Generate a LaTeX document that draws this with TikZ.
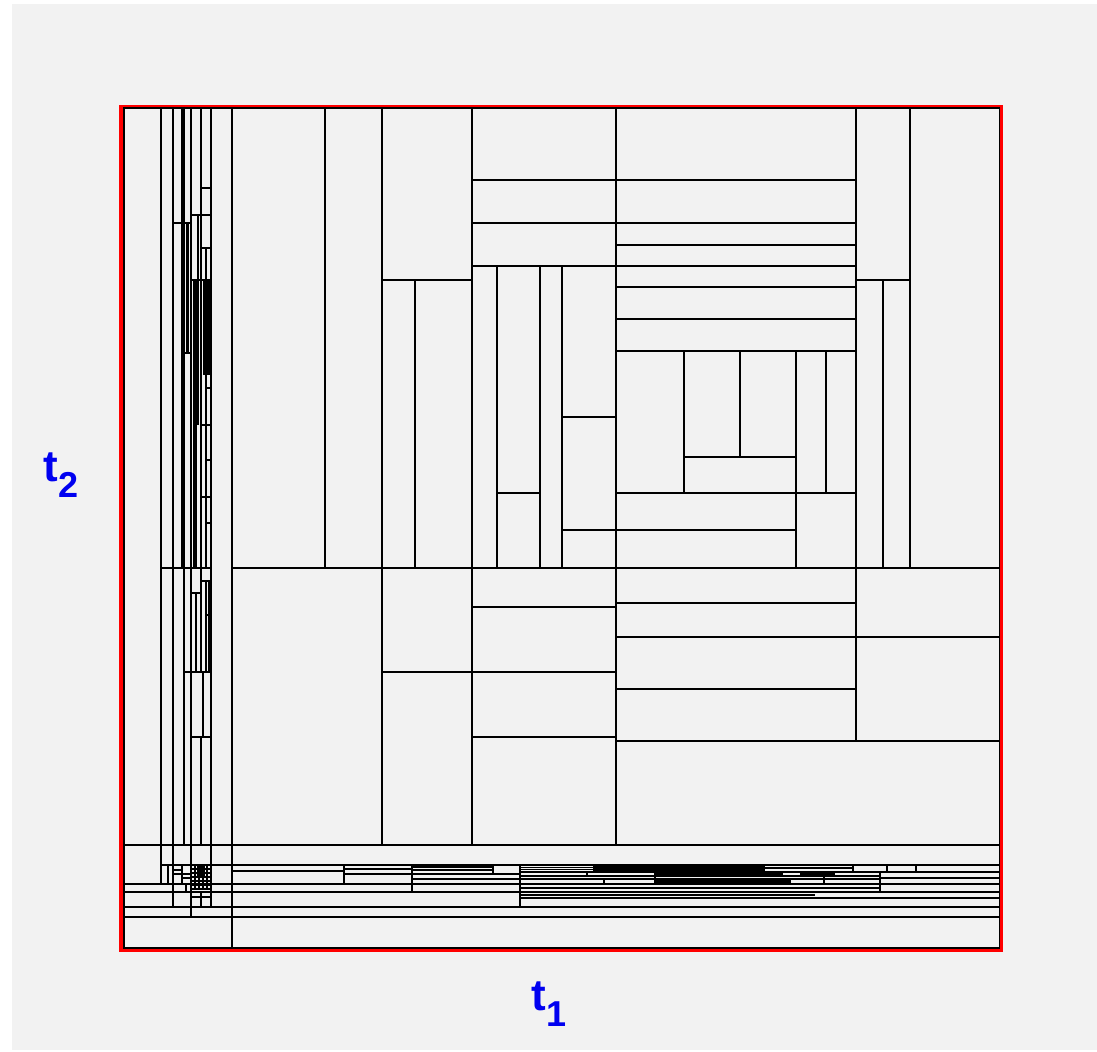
\documentclass[tikz,border=0pt]{standalone}
\usepackage{fontspec}
\setmainfont{Liberation Sans}
\definecolor{bgray}{HTML}{F2F2F2}
\definecolor{lblue}{HTML}{0000F0}
\newcommand\hseg[3]{\draw[gl] (#2,#1) -- (#3,#1);}
\newcommand\vseg[3]{\draw[gl] (#1,#2) -- (#1,#3);}
\newcommand\axlabel[1]{\bfseries\fontsize{22}{24}\selectfont t\raisebox{-8pt}{\fontsize{18}{20}\selectfont #1}}
\begin{document}
\begin{tikzpicture}[x=0.5pt,y=-0.5pt,
  gl/.style={line width=0.6pt,black},
  band/.style={fill=black},
  gband/.style={fill=black!55},
  lbl/.style={text=lblue,inner sep=0pt,anchor=base west}]
\useasboundingbox (0,0) rectangle (1097,1051);
\fill[white] (0,0) rectangle (1097,1051);
\fill[bgray] (12,4) rectangle (1097,1050);
% frame
\draw[red,line width=2pt] (121,106.5) rectangle (1001,949.5);
\draw[black,line width=0.8pt] (124,108) rectangle (999.5,948);
% ---------- main grid, top block ----------
\vseg{232}{108}{948}
\vseg{325}{108}{568}
\vseg{382}{108}{845}
\vseg{472}{108}{845}
\vseg{616}{108}{845}
\vseg{856}{108}{741}
\vseg{910}{108}{568}
\hseg{568}{232}{999}
\hseg{568}{161}{211}
\hseg{280}{382}{472}
\vseg{415}{280}{568}
\hseg{180}{472}{856}
\hseg{223}{472}{856}
\hseg{266}{472}{856}
\hseg{245}{616}{856}
\hseg{287}{616}{856}
\hseg{319}{616}{856}
\hseg{351}{616}{856}
\vseg{497}{266}{568}
\vseg{540}{266}{568}
\vseg{562}{266}{568}
\hseg{493}{497}{540}
\hseg{417}{562}{616}
\hseg{530}{562}{616}
\vseg{684}{351}{493}
\vseg{740}{351}{457}
\vseg{796}{351}{568}
\vseg{826}{351}{493}
\hseg{457}{684}{796}
\hseg{493}{616}{856}
\hseg{530}{616}{796}
\hseg{280}{856}{910}
\vseg{883}{280}{568}
% ---------- middle block ----------
\hseg{672}{382}{616}
\hseg{607}{472}{616}
\hseg{737}{472}{616}
\hseg{603}{616}{856}
\hseg{637}{616}{999}
\hseg{689}{616}{856}
\hseg{741}{616}{999}
% ---------- left column ----------
\fill[gband] (182,108) rectangle (184,568);
\fill[band] (185.5,223) rectangle (188.5,353);
\fill[band] (192.5,280) rectangle (197,568);
\fill[band] (202.5,280) rectangle (209.5,375);
\vseg{161}{108}{884}
\vseg{173}{108}{907}
\vseg{182}{108}{568}
\vseg{184}{108}{845}
\vseg{191}{108}{917}
\vseg{201}{108}{215}
\vseg{211}{108}{907}
\hseg{223}{173}{191}
\hseg{353}{184}{191}
\hseg{215}{191}{211}
\hseg{188}{201}{211}
\hseg{248}{201}{211}
\vseg{198}{215}{425}
\vseg{201}{215}{568}
\vseg{206}{248}{280}
\hseg{280}{191}{211}
\vseg{206}{375}{568}
\foreach \yy in {388,460,523}{\hseg{\yy}{206}{211}}
\foreach \yy in {425,497}{\hseg{\yy}{201}{211}}
\hseg{581}{201}{211}
\vseg{206}{581}{672}
\vseg{209}{581}{672}
\hseg{615}{206}{211}
\hseg{593}{191}{201}
\vseg{196}{593}{672}
\vseg{201}{568}{672}
\hseg{672}{184}{211}
\vseg{203}{672}{737}
\hseg{737}{191}{211}
\vseg{201}{737}{845}
% ---------- bottom strip ----------
\hseg{845}{124}{999}
\hseg{865}{161}{999}
\hseg{884}{124}{999}
\hseg{892}{124}{999}
\hseg{907}{124}{999}
\hseg{917}{124}{999}
\hseg{898}{520}{999}
% 232-520
\vseg{344}{865}{884}
\hseg{871}{232}{344}
\vseg{412}{865}{892}
\hseg{869}{344}{412}
\hseg{874}{344}{520}
\hseg{867}{412}{493}
\hseg{870}{412}{493}
\vseg{493}{865}{874}
\hseg{879}{412}{520}
\vseg{520}{865}{907}
% 520-999
\hseg{867.5}{520}{595}
\hseg{869.5}{520}{595}
\fill[band] (595,865) rectangle (765,870.5);
\vseg{594}{865}{871}
\hseg{868}{765}{853}
\hseg{872}{520}{999}
\vseg{587}{872}{876}
\vseg{655}{872}{884}
\vseg{782}{872}{876}
\fill[band] (655,873) rectangle (782,876);
\hseg{876}{520}{880}
\hseg{879}{520}{880}
\hseg{878}{880}{999}
\vseg{604}{879}{884}
\vseg{790}{879}{884}
\fill[band] (655,880) rectangle (790,883);
\fill[band] (800,873) rectangle (835,876.5);
\vseg{824}{872}{884}
\vseg{880}{872}{892}
\vseg{853}{865}{872}
\vseg{887}{865}{872}
\vseg{916}{865}{872}
\hseg{888}{520}{880}
\hseg{895}{520}{815}
% left cluster 161-232
\vseg{168}{865}{884}
\vseg{182}{865}{884}
\hseg{870}{173}{182}
\hseg{874}{173}{191}
\hseg{878}{182}{191}
\hseg{897}{191}{211}
\vseg{201}{892}{907}
\foreach \xx in {195,199,203,207}{\vseg{\xx}{865}{889}}
\foreach \yy in {869,873,877,881,885,889}{\hseg{\yy}{191}{211}}
\fill[band] (197,866) rectangle (205,878);
\vseg{186}{884}{892}
% ---------- labels ----------
\node[lbl] (t2) at (43,481) {\axlabel{2}};
\node[lbl] (t1) at (531,1010) {\axlabel{1}};
\end{tikzpicture}
\end{document}
